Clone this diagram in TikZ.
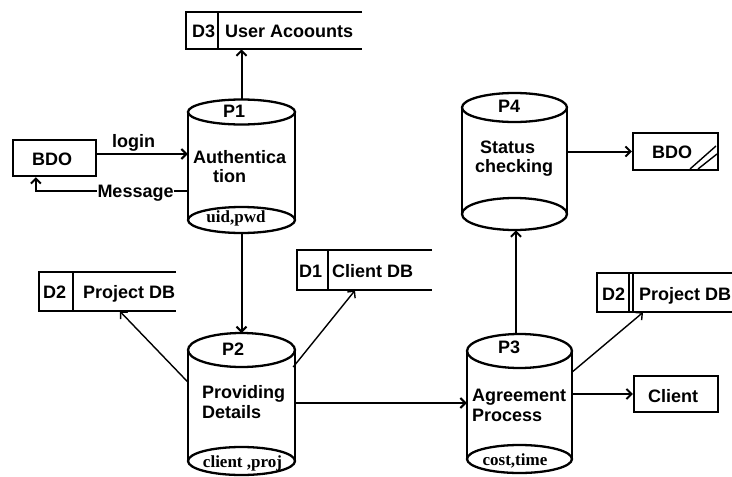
\documentclass[tikz,border=0pt]{standalone}
\usepackage{fontspec}
\setmainfont{Liberation Sans}
\newfontfamily\smallserif{Liberation Serif}
\usetikzlibrary{arrows.meta}

\tikzset{
  shapeline/.style={line width=2.3pt, line join=miter},
  flow/.style={line width=2pt, -{Straight Barb[length=5pt,width=10pt]}},
  thinflow/.style={line width=1.4pt, -{Straight Barb[length=5pt,width=10pt]}},
  txt/.style={inner sep=0pt, anchor=base west, font=\bfseries\fontsize{18}{20}\selectfont},
  stxt/.style={inner sep=0pt, anchor=base, font=\smallserif\bfseries\fontsize{17}{18}\selectfont},
  hole/.style={inner sep=0pt, draw=none}
}

% name, cx, ytop, ybot, rytop, rybot, width
\newcommand\mkcyl[7]{%
  \node[hole, minimum width=#7pt, minimum height={(#4-#3)*1pt}, anchor=north] (#1) at (#2,#3) {};
  \draw[shapeline] (#2,{#3+#5}) ellipse[x radius={#7/2*1pt}, y radius=#5pt];
  \draw[shapeline] (#2,{#4-#6}) ellipse[x radius={#7/2*1pt}, y radius=#6pt];
  \draw[shapeline] ({#2-#7/2},{#3+#5}) -- ({#2-#7/2},{#4-#6});
  \draw[shapeline] ({#2+#7/2},{#3+#5}) -- ({#2+#7/2},{#4-#6});
}
% name, left, top, right, bottom, divider
\newcommand\mkstore[6]{%
  \node[hole, minimum width={(#4-#2)*1pt}, minimum height={(#5-#3)*1pt}, anchor=north west] (#1) at (#2,#3) {};
  \draw[shapeline] (#4,#3) -- (#2,#3) -- (#2,#5) -- (#4,#5);
  \draw[shapeline] (#6,#3) -- (#6,#5);
}

\begin{document}
\begin{tikzpicture}[x=1pt, y=-1pt]
\fill[white] (0,0) rectangle (732,477);
\useasboundingbox (0,0) rectangle (732,477);

% cylinders
\mkcyl{p1}{241.5}{99.5}{233}{12.5}{13}{107}
\mkcyl{p2}{241.5}{333}{475}{17}{14}{107}
\mkcyl{p3}{519.5}{334}{473}{17}{14}{105}
\mkcyl{p4}{514.5}{93}{230}{14.5}{16}{105}

\node[txt] (p1id) at (223,117) {P1};
\node[txt] (p1a) at (193,163) {Authentica};
\node[txt] (p1b) at (213,182) {tion};
\node[stxt] (p1c) at (236,222) {uid,pwd};

\node[txt] (p2id) at (222,355) {P2};
\node[txt] (p2a) at (202,398) {Providing};
\node[txt] (p2b) at (202,418) {Details};
\node[stxt] (p2c) at (242.5,467) {client ,proj};

\node[txt] (p3id) at (498,353) {P3};
\node[txt] (p3a) at (472,401) {Agreement};
\node[txt] (p3b) at (472,421) {Process};
\node[stxt] (p3c) at (515,465) {cost,time};

\node[txt] (p4id) at (498,112) {P4};
\node[txt] (p4a) at (480,153) {Status};
\node[txt] (p4b) at (475,172) {checking};

% data stores
\mkstore{d3}{186}{12}{362}{49}{218}
\node[txt] (d3id) at (192,37) {D3};
\node[txt] (d3t) at (225,37) {User Acoounts};

\mkstore{d2l}{39}{272}{176}{311}{73}
\node[txt] (d2lid) at (43,298) {D2};
\node[txt] (d2lt) at (83,298) {Project DB};

\mkstore{d1}{297}{250}{432}{290}{328}
\node[txt] (d1id) at (299,277) {D1};
\node[txt] (d1t) at (332,277) {Client DB};

\mkstore{d2r}{597}{273}{732}{312}{629}
\draw[shapeline] (633,273) -- (633,312);
\node[txt] (d2rid) at (602,300) {D2};
\node[txt] (d2rt) at (639,300) {Project DB};

% external entities
\node[shapeline, draw, minimum width=83pt, minimum height=36pt, inner sep=0pt] (bdo1) at (54.5,158) {};
\node[txt] (bdo1t) at (32,165) {BDO};

\node[shapeline, draw, minimum width=85pt, minimum height=37pt, inner sep=0pt] (bdo2) at (675.5,151.5) {};
\node[txt] (bdo2t) at (652,158) {BDO};
\draw[line width=1.4pt] (690,169) -- (716,146);
\draw[line width=1.4pt] (698,169) -- (717,154);

\node[shapeline, draw, minimum width=84pt, minimum height=36pt, inner sep=0pt] (client) at (676,394) {};
\node[txt] (clientt) at (648,402) {Client};

% flows
\draw[flow] (p1.north) -- (p1.north |- d3.south);
\draw[flow] (bdo1.east |- 0,154) -- (p1.west |- 0,154);
\node[txt] (login) at (112,147) {login};
\draw[flow] (p1.west |- 0,191) -| ([xshift=24pt]bdo1.south west);
\node[txt, fill=white, inner xsep=0.3pt, inner ysep=1pt] (msg) at (97,197) {Message};

\draw[flow] (p1.south) -- (p2.north);
\draw[thinflow] (p2.west |- 0,382) -- ([xshift=81pt]d2l.south west);
\draw[thinflow] ([xshift=-2pt]p2.east |- 0,367) -- ([xshift=58pt]d1.south west);
\draw[flow] (p2.east |- 0,403) -- (p3.west |- 0,403);

\draw[flow] ([xshift=-3.5pt]p3.north) -- ([xshift=-3.5pt]p3.north |- p4.south);
\draw[thinflow] (p3.east |- 0,372) -- ([xshift=46pt]d2r.south west);
\draw[flow] (p3.east |- client.west) -- (client.west);

\draw[flow] (p4.east |- bdo2.west) -- (bdo2.west);
\end{tikzpicture}
\end{document}
